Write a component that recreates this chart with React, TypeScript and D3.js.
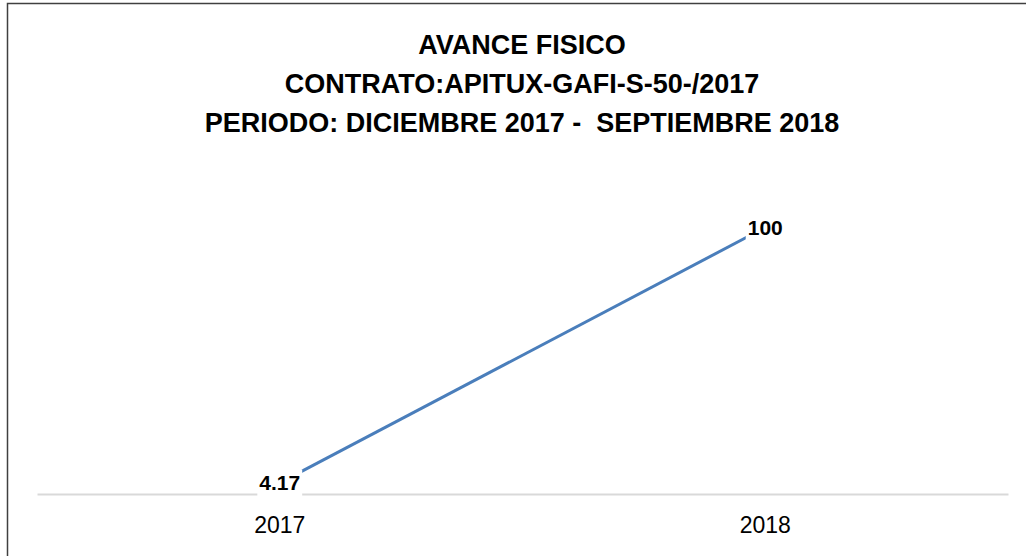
import { useRef, useEffect } from 'react'
import * as d3 from 'd3'

const titleLines = [
  'AVANCE FISICO',
  'CONTRATO:APITUX-GAFI-S-50-/2017',
  'PERIODO: DICIEMBRE 2017 -  SEPTIEMBRE 2018',
]
const years = ['2017', '2018']
const avance = [4.17, 100]

export default function App() {
  const svgRef = useRef<SVGSVGElement>(null)

  useEffect(() => {
    const w = 1026
    const h = 556
    const svg = d3.select(svgRef.current)
    svg.selectAll('*').remove()
    svg.attr('width', w).attr('height', h)

    svg.append('rect')
      .attr('width', w).attr('height', h)
      .attr('fill', '#fff')

    // chart border (cut off at right and bottom like the source)
    svg.append('rect')
      .attr('x', 7.5).attr('y', 3.5)
      .attr('width', 1040).attr('height', 570)
      .attr('fill', 'none')
      .attr('stroke', '#404040')
      .attr('stroke-width', 1.5)

    // title
    svg.append('g')
      .selectAll('text')
      .data(titleLines)
      .join('text')
        .attr('x', 522)
        .attr('y', (d, i) => 54 + i * 38.8)
        .attr('text-anchor', 'middle')
        .attr('font-family', 'Liberation Sans, Arial, sans-serif')
        .attr('font-weight', 'bold')
        .attr('font-size', 27)
        .attr('fill', '#000')
        .style('white-space', 'pre')
        .text(d => d)

    //scaling
    const xScale = d3.scaleBand()
      .domain(years)
      .range([37, 1008])

    const yScale = d3.scaleLinear()
      .domain([0, 100])
      .range([494, 227.5])

    const cx = (d: string) => (xScale(d) as number) + xScale.bandwidth() / 2

    //axis
    const xAxis = d3.axisBottom(xScale).tickSize(0).tickPadding(23)
    const ax = svg.append('g')
      .attr('transform', `translate(0, ${yScale(0)})`)
      .call(xAxis)
    ax.select('.domain').attr('stroke', '#d9d9d9').attr('stroke-width', 2)
    ax.selectAll('.tick text')
      .attr('font-family', 'Liberation Sans, Arial, sans-serif')
      .attr('font-size', 23)
      .attr('fill', '#000')
      .attr('dy', '0.71em')

    //line
    const line = d3.line<number>()
      .x((d, i) => cx(years[i]))
      .y(d => yScale(d))

    svg.append('path')
      .datum(avance)
      .attr('d', line)
      .attr('fill', 'none')
      .attr('stroke', '#4a7ebb')
      .attr('stroke-width', 3)

    //labels with white background
    const lbl = svg.append('g')
      .selectAll('g')
      .data(avance)
      .join('g')
        .attr('transform', (d, i) => `translate(${cx(years[i])}, ${yScale(d)})`)

    const txt = lbl.append('text')
      .attr('text-anchor', 'middle')
      .attr('dy', '0.36em')
      .attr('font-family', 'Liberation Sans, Arial, sans-serif')
      .attr('font-weight', 'bold')
      .attr('font-size', 21)
      .attr('fill', '#000')
      .text(d => String(d))

    txt.each(function () {
      const b = (this as SVGTextElement).getBBox()
      d3.select((this as SVGTextElement).parentNode as SVGGElement)
        .insert('rect', 'text')
        .attr('x', b.x - 2)
        .attr('y', b.y - 2)
        .attr('width', b.width + 4)
        .attr('height', b.height + 4)
        .attr('fill', '#fff')
    })
  }, [])

  return (
    <svg ref={svgRef} style={{ position: 'absolute', left: 0, top: 0 }}></svg>
  )
}
